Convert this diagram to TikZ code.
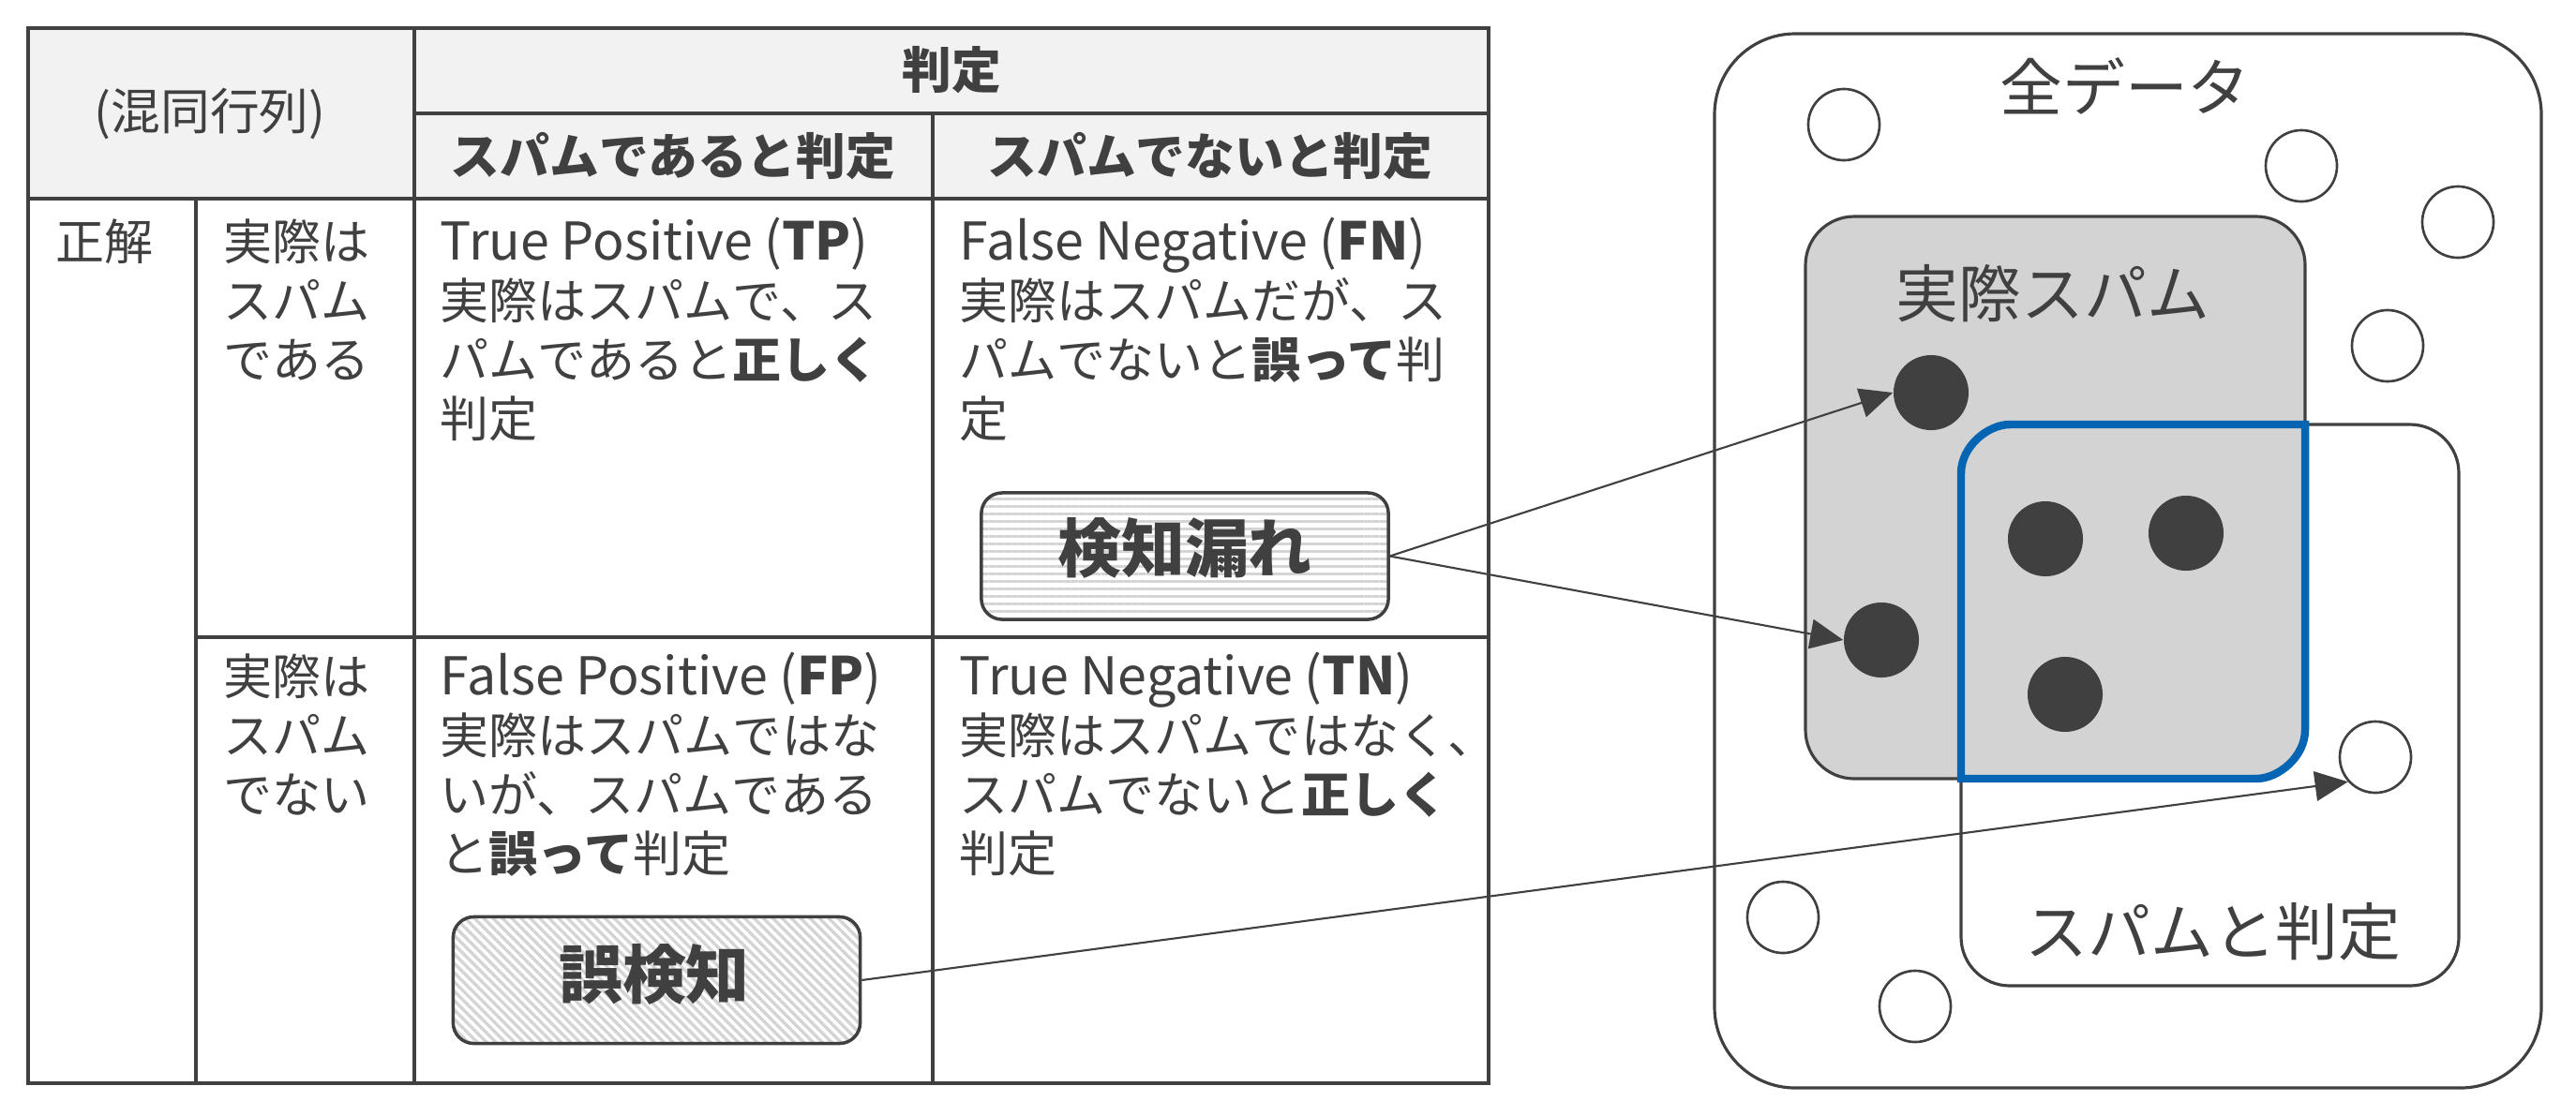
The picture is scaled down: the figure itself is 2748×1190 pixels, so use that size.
\documentclass[tikz,border=0pt]{standalone}
\usepackage{fontspec}
\setmainfont{Noto Sans CJK JP}
\usetikzlibrary{arrows.meta,patterns.meta}
\definecolor{ink}{HTML}{404040}
\definecolor{headfill}{HTML}{F2F2F2}
\definecolor{stripe}{HTML}{D4D4D4}
\definecolor{spamgray}{HTML}{D3D3D3}
\definecolor{hitblue}{HTML}{0565B2}
\begin{document}
\begin{tikzpicture}[x=0.01cm,y=-0.01cm,
  grid/.style={draw=ink, line width=1pt},
  body/.style={anchor=base west, inner sep=0pt, text=ink, font=\fontsize{14.8}{17.9}\selectfont},
  latinbody/.style={body, font=\fontsize{15.8}{17.9}\selectfont},
  head/.style={inner sep=0pt, text=ink, font=\fontsize{15}{18}\selectfont\bfseries},
  plainhead/.style={inner sep=0pt, text=ink, font=\fontsize{15}{18}\selectfont},
  callbox/.style={draw=ink, line width=1pt, rounded corners=0.22cm, minimum width=4.34cm, minimum height=1.35cm, inner sep=0pt, preaction={fill=white}, pattern color=stripe},
  calltext/.style={inner sep=0pt, text=ink, font=\fontsize{19.3}{22}\selectfont\bfseries},
  setlabel/.style={inner sep=0pt, text=ink, font=\fontsize{19}{22}\selectfont},
  item/.style={circle, draw=ink, line width=0.75pt, fill=white, minimum size=0.76cm, inner sep=0pt},
  spamdot/.style={circle, fill=ink, minimum size=0.8cm, inner sep=0pt},
  setbox/.style={draw=ink, line width=0.9pt},
  pointer/.style={draw=ink, line width=0.6pt, -{Triangle[length=10pt,width=9pt]}},
]
\useasboundingbox (0,0) rectangle (2748,1190);
\fill[white] (0,0) rectangle (2748,1190);

% ---------- table ----------
\fill[headfill] (30,30) rectangle (1588,212);
\draw[grid] (30,30) rectangle (1588,1156);
\draw[grid] (442,121) -- (1588,121);
\draw[grid] (30,212) -- (1588,212);
\draw[grid] (209,680) -- (1588,680);
\draw[grid] (442,30) -- (442,1156);
\draw[grid] (995,121) -- (995,1156);
\draw[grid] (209,212) -- (209,1156);

\node[plainhead] (hmat) at (224,121) {(混同行列)};
\node[head] (hjud) at (1015,75) {判定};
\node[head] (hpos) at (718,167) {スパムであると判定};
\node[head] (hneg) at (1291,167) {スパムでないと判定};

\node[body] (ans) at (59,277) {正解};
\node[body] (r1a) at (238,277) {実際は};
\node[body] (r1b) at (238,340) {スパム};
\node[body] (r1c) at (238,403) {である};
\node[body] (r2a) at (238,741) {実際は};
\node[body] (r2b) at (238,804) {スパム};
\node[body] (r2c) at (238,867) {でない};

\node[latinbody] (tp1) at (469,277) {True Positive (\textbf{TP})};
\node[body] (tp2) at (469,340) {実際はスパムで、ス};
\node[body] (tp3) at (469,403) {パムであると\textbf{正しく}};
\node[body] (tp4) at (469,466) {判定};

\node[latinbody] (fn1) at (1023,277) {False Negative (\textbf{FN})};
\node[body] (fn2) at (1023,340) {実際はスパムだが、ス};
\node[body] (fn3) at (1023,403) {パムでないと\textbf{誤って}判};
\node[body] (fn4) at (1023,466) {定};

\node[latinbody] (fp1) at (469,741) {False Positive (\textbf{FP})};
\node[body] (fp2) at (469,804) {実際はスパムではな};
\node[body] (fp3) at (469,867) {いが、スパムである};
\node[body] (fp4) at (469,930) {と\textbf{誤って}判定};

\node[latinbody] (tn1) at (1023,741) {True Negative (\textbf{TN})};
\node[body] (tn2) at (1023,804) {実際はスパムではなく、};
\node[body] (tn3) at (1023,867) {スパムでないと\textbf{正しく}};
\node[body] (tn4) at (1023,930) {判定};

% callouts
\node[callbox, pattern={Lines[angle=0,distance=2.28pt,line width=0.8pt]}] (kl) at (1264,593.5) {};
\node[calltext] (klt) at (1264,585) {検知漏れ};
\node[callbox, pattern={Lines[angle=-45,distance=2pt,line width=0.95pt]}] (gk) at (700.5,1046) {};
\node[calltext] (gkt) at (698,1040) {誤検知};

% ---------- sets ----------
\draw[setbox, fill=white, rounded corners=0.86cm] (1829,36) rectangle (2711,1161);
\draw[setbox, fill=white, rounded corners=0.52cm] (2092,453) rectangle (2623,1052);
\draw[setbox, fill=spamgray, rounded corners=0.52cm] (1926,231) rectangle (2459,831);
\draw[draw=hitblue, line width=2.4pt]
  (2092,831) -- (2092,505) .. controls (2092,476.3) and (2120.7,453) .. (2144,453)
  -- (2459,453) -- (2459,779) .. controls (2459,807.7) and (2430.3,831) .. (2407,831) -- cycle;

\node[setlabel] (all) at (2267,92) {全データ};
\node[setlabel] (act) at (2190,313) {実際スパム};
\node[setlabel] (pred) at (2361,994) {スパムと判定};

\node[item] (ca) at (1967,133) {};
\node[item] (cb) at (2455,177) {};
\node[item] (cc) at (2622,237) {};
\node[item] (cd) at (2547,369) {};
\node[item] (ce) at (2534,808) {};
\node[item] (cf) at (1902,979) {};
\node[item] (cg) at (2043,1074) {};

\node[spamdot] (d1) at (2060,419) {};
\node[spamdot] (d2) at (2007,683) {};
\node[spamdot] (d3) at (2182,575) {};
\node[spamdot] (d4) at (2332,569) {};
\node[spamdot] (d5) at (2203,741) {};

% ---------- connectors ----------
\draw[pointer] (kl.east) -- (d1.west);
\draw[pointer] (kl.east) -- (d2.west);
\draw[pointer] (gk.east) -- (ce.222);
\end{tikzpicture}
\end{document}
